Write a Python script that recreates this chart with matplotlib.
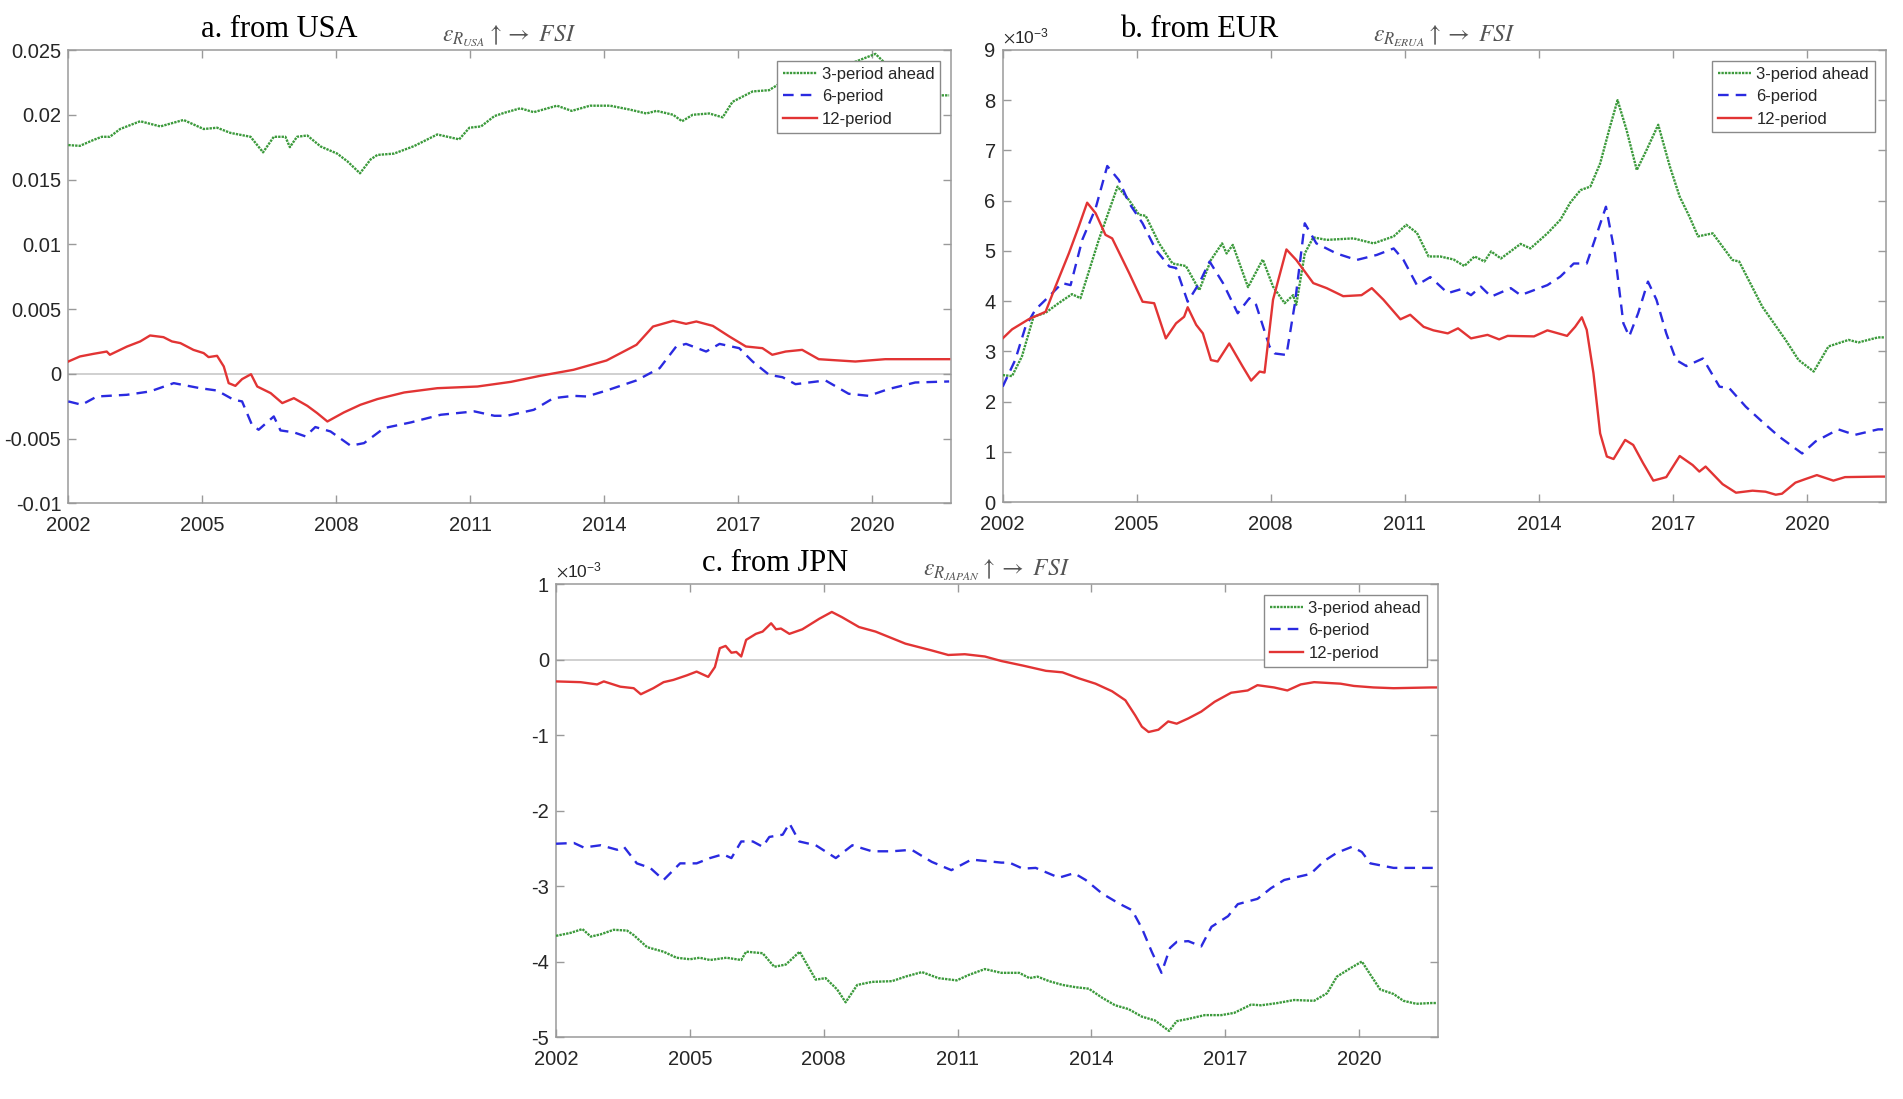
import matplotlib
matplotlib.use("Agg")
import matplotlib.pyplot as plt
from matplotlib.ticker import FuncFormatter, FixedLocator
import numpy as np

plt.rcParams['font.family'] = ['Liberation Sans', 'DejaVu Sans']
plt.rcParams['mathtext.fontset'] = 'stix'

# ---------------- data (year, value) ----------------
years_ticks = [2002, 2005, 2008, 2011, 2014, 2017, 2020]
labels = ['3-period ahead', '6-period', '12-period']

# Panel a: from USA (raw values)
usa_3 = [(2002.0, 0.01766), (2002.26, 0.0176), (2002.56, 0.01805), (2002.75, 0.0183), (2002.93, 0.0183),
         (2003.16, 0.0189), (2003.61, 0.0195), (2004.06, 0.0191), (2004.58, 0.0196), (2005.03, 0.0189),
         (2005.33, 0.0190), (2005.63, 0.0186), (2006.08, 0.0183), (2006.36, 0.0171), (2006.60, 0.0183),
         (2006.86, 0.0183), (2006.96, 0.0175), (2007.12, 0.0183), (2007.35, 0.0184), (2007.65, 0.01755),
         (2008.02, 0.0170), (2008.25, 0.0164), (2008.53, 0.01548), (2008.77, 0.01656), (2008.92, 0.0169),
         (2009.29, 0.0170), (2009.74, 0.01758), (2010.26, 0.01848), (2010.75, 0.0181), (2010.98, 0.0190),
         (2011.24, 0.0191), (2011.54, 0.0199), (2011.76, 0.02015), (2012.12, 0.0205), (2012.42, 0.0202),
         (2012.94, 0.0207), (2013.27, 0.0203), (2013.68, 0.0207), (2014.13, 0.0207), (2014.57, 0.0204),
         (2014.94, 0.0201), (2015.17, 0.0203), (2015.54, 0.0200), (2015.74, 0.0195), (2015.98, 0.0200),
         (2016.35, 0.0201), (2016.65, 0.0198), (2016.87, 0.0210), (2017.32, 0.0218), (2017.69, 0.0219),
         (2017.99, 0.02255), (2018.5, 0.0228), (2019.0, 0.0232), (2019.55, 0.0240), (2020.07, 0.0247),
         (2020.25, 0.0241), (2020.6, 0.0222), (2021.0, 0.0218), (2021.3, 0.0216), (2021.55, 0.0215),
         (2021.72, 0.0215)]
usa_6 = [(2002.0, -0.00213), (2002.30, -0.00239), (2002.64, -0.00175), (2003.31, -0.00162), (2003.83, -0.00136),
         (2004.36, -0.00072), (2004.95, -0.00111), (2005.33, -0.00129), (2005.70, -0.00200), (2005.89, -0.00213),
         (2006.11, -0.00393), (2006.26, -0.00432), (2006.60, -0.00329), (2006.75, -0.00437), (2007.05, -0.00452),
         (2007.31, -0.00483), (2007.53, -0.00411), (2007.87, -0.00445), (2008.32, -0.00555), (2008.62, -0.00535),
         (2009.07, -0.00419), (2009.67, -0.00375), (2010.34, -0.00316), (2011.09, -0.0029), (2011.54, -0.00324),
         (2011.82, -0.00324), (2012.42, -0.00278), (2012.86, -0.00188), (2013.31, -0.0017), (2013.61, -0.00175),
         (2014.05, -0.00129), (2014.72, -0.00051), (2015.24, 0.00044), (2015.61, 0.00211), (2015.83, 0.00231),
         (2016.28, 0.00172), (2016.58, 0.00231), (2017.02, 0.00198), (2017.32, 0.00095), (2017.69, -0.00008),
         (2017.99, -0.00026), (2018.28, -0.0008), (2018.95, -0.00051), (2019.47, -0.00154), (2019.92, -0.0017),
         (2020.36, -0.00118), (2020.96, -0.00067), (2021.72, -0.00059)]
usa_12 = [(2002.0, 0.00095), (2002.26, 0.00134), (2002.56, 0.00154), (2002.86, 0.00172), (2002.93, 0.00147),
          (2003.31, 0.0021), (2003.61, 0.0025), (2003.83, 0.00296), (2004.13, 0.00283), (2004.32, 0.0025),
          (2004.51, 0.00237), (2004.80, 0.00185), (2005.03, 0.0016), (2005.14, 0.00129), (2005.33, 0.00139),
          (2005.48, 0.00057), (2005.59, -0.00072), (2005.74, -0.00093), (2005.89, -0.00041), (2006.09, -0.00003),
          (2006.23, -0.00098), (2006.53, -0.00149), (2006.79, -0.00226), (2007.05, -0.00188), (2007.35, -0.00247),
          (2007.57, -0.00303), (2007.80, -0.00368), (2008.17, -0.00298), (2008.54, -0.00239), (2008.92, -0.00195),
          (2009.52, -0.00144), (2010.26, -0.00111), (2011.16, -0.00098), (2011.91, -0.00062), (2012.57, -0.00015),
          (2013.31, 0.00031), (2014.05, 0.00103), (2014.72, 0.00224), (2015.09, 0.00365), (2015.54, 0.00409),
          (2015.83, 0.00386), (2016.06, 0.00404), (2016.43, 0.0037), (2016.80, 0.00288), (2017.17, 0.00211),
          (2017.54, 0.00198), (2017.76, 0.00147), (2018.06, 0.00172), (2018.43, 0.00185), (2018.80, 0.00113),
          (2019.25, 0.00103), (2019.62, 0.00095), (2020.29, 0.00113), (2021.72, 0.00113)]

# Panel b: from EUR (values in units of 1e-3)
eur_3 = [(2002.0, 2.53), (2002.21, 2.51), (2002.43, 2.90), (2002.69, 3.69), (2002.96, 3.77), (2003.25, 3.96),
         (2003.55, 4.14), (2003.74, 4.06), (2004.15, 5.22), (2004.57, 6.28), (2004.83, 6.01), (2005.05, 5.72),
         (2005.20, 5.70), (2005.50, 5.15), (2005.80, 4.75), (2006.10, 4.70), (2006.40, 4.22), (2006.66, 4.82),
         (2006.91, 5.15), (2007.01, 4.95), (2007.15, 5.12), (2007.49, 4.28), (2007.82, 4.83), (2008.05, 4.29),
         (2008.31, 3.96), (2008.50, 4.12), (2008.57, 3.93), (2008.76, 4.95), (2008.95, 5.27), (2009.25, 5.22),
         (2009.85, 5.25), (2010.30, 5.15), (2010.75, 5.29), (2011.03, 5.52), (2011.27, 5.36), (2011.53, 4.89),
         (2011.79, 4.89), (2012.09, 4.83), (2012.33, 4.70), (2012.56, 4.89), (2012.78, 4.79), (2012.93, 4.99),
         (2013.15, 4.85), (2013.59, 5.14), (2013.81, 5.05), (2014.19, 5.35), (2014.48, 5.62), (2014.70, 5.96),
         (2014.93, 6.21), (2015.15, 6.28), (2015.37, 6.74), (2015.59, 7.47), (2015.76, 8.00), (2015.96, 7.41),
         (2016.19, 6.61), (2016.41, 7.01), (2016.67, 7.51), (2016.93, 6.68), (2017.15, 6.08), (2017.37, 5.68),
         (2017.56, 5.29), (2017.89, 5.35), (2018.33, 4.82), (2018.48, 4.79), (2019.00, 3.89), (2019.52, 3.23),
         (2019.81, 2.83), (2020.15, 2.60), (2020.48, 3.10), (2020.93, 3.23), (2021.15, 3.18), (2021.59, 3.28),
         (2021.72, 3.28)]
eur_6 = [(2002.0, 2.30), (2002.28, 2.83), (2002.51, 3.49), (2002.73, 3.83), (2003.03, 4.09), (2003.33, 4.36),
         (2003.52, 4.32), (2003.78, 5.22), (2004.08, 5.85), (2004.34, 6.69), (2004.60, 6.41), (2004.83, 5.95),
         (2005.13, 5.55), (2005.43, 5.02), (2005.73, 4.69), (2005.88, 4.66), (2006.14, 3.99), (2006.40, 4.36),
         (2006.63, 4.79), (2006.93, 4.36), (2007.26, 3.76), (2007.52, 4.06), (2007.67, 3.93), (2007.97, 3.10),
         (2008.09, 2.96), (2008.35, 2.93), (2008.54, 3.96), (2008.76, 5.55), (2009.02, 5.15), (2009.47, 4.95),
         (2009.92, 4.82), (2010.37, 4.92), (2010.75, 5.05), (2010.97, 4.82), (2011.27, 4.32), (2011.57, 4.48),
         (2011.96, 4.16), (2012.26, 4.24), (2012.48, 4.12), (2012.70, 4.29), (2012.93, 4.09), (2013.37, 4.26),
         (2013.59, 4.12), (2014.19, 4.32), (2014.48, 4.49), (2014.78, 4.75), (2015.07, 4.75), (2015.30, 5.35),
         (2015.50, 5.88), (2015.70, 4.95), (2015.89, 3.56), (2016.02, 3.30), (2016.22, 3.76), (2016.44, 4.39),
         (2016.63, 4.03), (2016.85, 3.36), (2017.07, 2.83), (2017.30, 2.71), (2017.67, 2.86), (2018.04, 2.30),
         (2018.26, 2.27), (2018.63, 1.90), (2019.00, 1.60), (2019.37, 1.31), (2019.89, 0.97), (2020.19, 1.21),
         (2020.70, 1.45), (2021.07, 1.34), (2021.59, 1.45), (2021.72, 1.45)]
eur_12 = [(2002.0, 3.26), (2002.21, 3.44), (2002.58, 3.64), (2002.96, 3.79), (2003.18, 4.29), (2003.48, 4.95),
          (2003.70, 5.48), (2003.89, 5.96), (2004.08, 5.75), (2004.30, 5.32), (2004.45, 5.25), (2004.83, 4.56),
          (2005.13, 3.99), (2005.39, 3.96), (2005.65, 3.26), (2005.88, 3.56), (2006.06, 3.69), (2006.14, 3.88),
          (2006.33, 3.53), (2006.48, 3.36), (2006.66, 2.83), (2006.81, 2.80), (2007.07, 3.16), (2007.37, 2.70),
          (2007.56, 2.42), (2007.75, 2.60), (2007.86, 2.58), (2008.05, 4.03), (2008.35, 5.03), (2008.57, 4.82),
          (2008.95, 4.36), (2009.25, 4.26), (2009.62, 4.10), (2010.03, 4.12), (2010.26, 4.26), (2010.52, 4.03),
          (2010.90, 3.64), (2011.12, 3.73), (2011.42, 3.49), (2011.64, 3.42), (2011.96, 3.36), (2012.19, 3.46),
          (2012.48, 3.26), (2012.85, 3.33), (2013.11, 3.24), (2013.30, 3.31), (2013.89, 3.30), (2014.19, 3.42),
          (2014.63, 3.31), (2014.81, 3.49), (2014.96, 3.68), (2015.07, 3.43), (2015.22, 2.57), (2015.37, 1.37),
          (2015.52, 0.91), (2015.67, 0.86), (2015.93, 1.24), (2016.11, 1.14), (2016.33, 0.78), (2016.56, 0.43),
          (2016.85, 0.50), (2017.15, 0.92), (2017.44, 0.74), (2017.59, 0.61), (2017.73, 0.71), (2018.11, 0.36),
          (2018.41, 0.19), (2018.78, 0.23), (2019.07, 0.21), (2019.30, 0.15), (2019.44, 0.17), (2019.74, 0.39),
          (2019.96, 0.46), (2020.22, 0.54), (2020.59, 0.43), (2020.85, 0.50), (2021.59, 0.51), (2021.72, 0.51)]

# Panel c: from JPN (values in units of 1e-3)
jpn_3 = [(2002.0, -3.66), (2002.33, -3.62), (2002.59, -3.57), (2002.78, -3.67), (2003.00, -3.64), (2003.29, -3.58),
         (2003.59, -3.59), (2003.74, -3.65), (2004.04, -3.81), (2004.41, -3.87), (2004.70, -3.95), (2005.00, -3.97),
         (2005.22, -3.95), (2005.45, -3.98), (2005.82, -3.95), (2006.15, -3.98), (2006.26, -3.87), (2006.63, -3.89),
         (2006.89, -4.07), (2007.15, -4.04), (2007.46, -3.87), (2007.82, -4.24), (2008.04, -4.22), (2008.30, -4.37),
         (2008.49, -4.54), (2008.75, -4.31), (2009.08, -4.27), (2009.53, -4.26), (2009.83, -4.20), (2010.20, -4.14),
         (2010.57, -4.22), (2010.98, -4.25), (2011.24, -4.18), (2011.61, -4.10), (2011.98, -4.15), (2012.38, -4.15),
         (2012.61, -4.22), (2012.79, -4.20), (2013.05, -4.26), (2013.35, -4.31), (2013.64, -4.34), (2013.94, -4.36),
         (2014.24, -4.48), (2014.53, -4.58), (2014.83, -4.63), (2015.13, -4.73), (2015.42, -4.78), (2015.74, -4.92),
         (2015.91, -4.79), (2016.17, -4.76), (2016.54, -4.71), (2016.91, -4.71), (2017.20, -4.68), (2017.58, -4.57),
         (2017.80, -4.58), (2018.17, -4.55), (2018.54, -4.51), (2018.99, -4.52), (2019.28, -4.42), (2019.50, -4.20),
         (2019.80, -4.09), (2020.06, -4.00), (2020.28, -4.20), (2020.47, -4.37), (2020.77, -4.43), (2020.99, -4.52),
         (2021.28, -4.56), (2021.62, -4.55), (2021.72, -4.55)]
jpn_6 = [(2002.0, -2.44), (2002.40, -2.43), (2002.62, -2.49), (2003.00, -2.46), (2003.37, -2.52), (2003.52, -2.48),
         (2003.81, -2.70), (2004.11, -2.76), (2004.41, -2.92), (2004.78, -2.70), (2005.15, -2.70), (2005.45, -2.63),
         (2005.74, -2.58), (2005.93, -2.63), (2006.15, -2.41), (2006.41, -2.41), (2006.63, -2.48), (2006.78, -2.35),
         (2007.08, -2.32), (2007.23, -2.17), (2007.45, -2.41), (2007.82, -2.46), (2008.27, -2.63), (2008.64, -2.46),
         (2009.08, -2.54), (2009.53, -2.54), (2009.97, -2.52), (2010.42, -2.68), (2010.86, -2.79), (2011.31, -2.65),
         (2011.98, -2.69), (2012.16, -2.69), (2012.46, -2.77), (2012.75, -2.76), (2013.27, -2.89), (2013.61, -2.83),
         (2013.87, -2.92), (2014.24, -3.10), (2014.61, -3.23), (2014.91, -3.32), (2015.13, -3.56), (2015.35, -3.87),
         (2015.57, -4.15), (2015.76, -3.82), (2015.91, -3.74), (2016.17, -3.73), (2016.46, -3.80), (2016.69, -3.54),
         (2017.06, -3.40), (2017.28, -3.24), (2017.72, -3.17), (2018.02, -3.03), (2018.32, -2.92), (2018.91, -2.84),
         (2019.21, -2.67), (2019.50, -2.56), (2019.84, -2.48), (2020.06, -2.55), (2020.25, -2.70), (2020.77, -2.76),
         (2021.62, -2.76), (2021.72, -2.76)]
jpn_12 = [(2002.0, -0.29), (2002.55, -0.30), (2002.92, -0.33), (2003.07, -0.29), (2003.44, -0.36), (2003.74, -0.38),
          (2003.90, -0.46), (2004.18, -0.38), (2004.41, -0.30), (2004.63, -0.27), (2004.93, -0.21), (2005.15, -0.16),
          (2005.41, -0.23), (2005.56, -0.10), (2005.67, 0.15), (2005.80, 0.18), (2005.93, 0.09), (2006.04, 0.10),
          (2006.15, 0.04), (2006.26, 0.26), (2006.48, 0.34), (2006.63, 0.37), (2006.82, 0.48), (2006.93, 0.40),
          (2007.04, 0.41), (2007.23, 0.34), (2007.52, 0.40), (2007.90, 0.54), (2008.18, 0.63), (2008.41, 0.56),
          (2008.79, 0.43), (2009.16, 0.37), (2009.83, 0.21), (2010.42, 0.12), (2010.79, 0.06), (2011.16, 0.07),
          (2011.61, 0.04), (2011.98, -0.02), (2012.46, -0.08), (2012.98, -0.15), (2013.35, -0.17), (2013.72, -0.25),
          (2014.09, -0.32), (2014.46, -0.42), (2014.76, -0.54), (2014.98, -0.74), (2015.13, -0.89), (2015.28, -0.96),
          (2015.50, -0.93), (2015.72, -0.82), (2015.91, -0.85), (2016.17, -0.78), (2016.46, -0.69), (2016.76, -0.56),
          (2017.13, -0.44), (2017.50, -0.41), (2017.72, -0.34), (2018.09, -0.37), (2018.39, -0.41), (2018.69, -0.33),
          (2018.99, -0.30), (2019.58, -0.32), (2019.88, -0.35), (2020.32, -0.37), (2020.77, -0.38), (2021.62, -0.37),
          (2021.72, -0.37)]

# ---------------- style ----------------
GREEN = '#3c9a3c'
BLUE = '#2a2ae0'
RED = '#e23434'
AX_GRAY = '#9a9a9a'
TXT = '#262626'

fig = plt.figure(figsize=(19.03, 10.99), dpi=100)

panels = [
    dict(rect=[0.0359, 0.5420, 0.4638, 0.4125], series=[usa_3, usa_6, usa_12],
         ylim=(-0.01, 0.025), yticks=[-0.01, -0.005, 0, 0.005, 0.01, 0.015, 0.02, 0.025],
         scaled=False, zero=True, title='a. from USA',
         sub=r'$\varepsilon_{R_{USA}}\uparrow\rightarrow\ FSI$', tx=0.239),
    dict(rect=[0.5269, 0.5430, 0.4640, 0.4116], series=[eur_3, eur_6, eur_12],
         ylim=(0, 9), yticks=list(range(0, 10)),
         scaled=True, zero=False, title='b. from EUR',
         sub=r'$\varepsilon_{R_{ERUA}}\uparrow\rightarrow\ FSI$', tx=0.223),
    dict(rect=[0.2922, 0.0564, 0.4633, 0.4122], series=[jpn_3, jpn_6, jpn_12],
         ylim=(-5, 1), yticks=list(range(-5, 2)),
         scaled=True, zero=True, title='c. from JPN',
         sub=r'$\varepsilon_{R_{JAPAN}}\uparrow\rightarrow\ FSI$', tx=0.249),
]

styles = [dict(color=GREEN, linestyle=(0, (1, 0.45)), lw=1.7),
          dict(color=BLUE, linestyle=(0, (4.5, 3)), lw=1.7),
          dict(color=RED, linestyle='-', lw=1.7)]

for p in panels:
    ax = fig.add_axes(p['rect'])
    if p['zero']:
        ax.axhline(0, color='#c8c8c8', lw=1.2, zorder=1)
    for s, st, lab in zip(p['series'], styles, labels):
        xs = np.array([a for a, b in s])
        ys = np.array([b for a, b in s])
        ax.plot(xs, ys, label=lab, zorder=3, **st)
    ax.set_xlim(2002, 2021.76)
    ax.set_ylim(*p['ylim'])
    ax.xaxis.set_major_locator(FixedLocator(years_ticks))
    ax.set_xticklabels([str(y) for y in years_ticks])
    ax.yaxis.set_major_locator(FixedLocator(p['yticks']))
    ax.yaxis.set_major_formatter(FuncFormatter(lambda v, pos: f'{v:g}'))
    ax.tick_params(direction='in', length=6, width=1, color=AX_GRAY, labelcolor=TXT,
                   labelsize=14.5, top=True, right=True)
    ax.tick_params(axis='x', pad=9)
    ax.tick_params(axis='y', pad=5)
    for sp in ax.spines.values():
        sp.set_color(AX_GRAY)
        sp.set_linewidth(1.1)
    if p['scaled']:
        ax.text(0.0, 1.008, r'$\times\mathregular{10^{-3}}$', transform=ax.transAxes,
                ha='left', va='bottom', fontsize=12.5, color=TXT)
    ax.text(p['tx'], 1.046, p['title'], transform=ax.transAxes, ha='center', va='center',
            fontsize=22, family='Liberation Serif', color='black')
    ax.text(0.5, 1.03, p['sub'], transform=ax.transAxes, ha='center', va='center',
            fontsize=17, color='#555555')
    leg = ax.legend(loc='upper right', fontsize=12, frameon=True, fancybox=False,
                    edgecolor='#8a8a8a', framealpha=1, handlelength=2.0, handletextpad=0.3,
                    labelspacing=0.45, borderpad=0.35, borderaxespad=0.65)
    leg.get_frame().set_linewidth(1.0)
    for t in leg.get_texts():
        t.set_color(TXT)

fig.savefig('out.png', dpi=100)
